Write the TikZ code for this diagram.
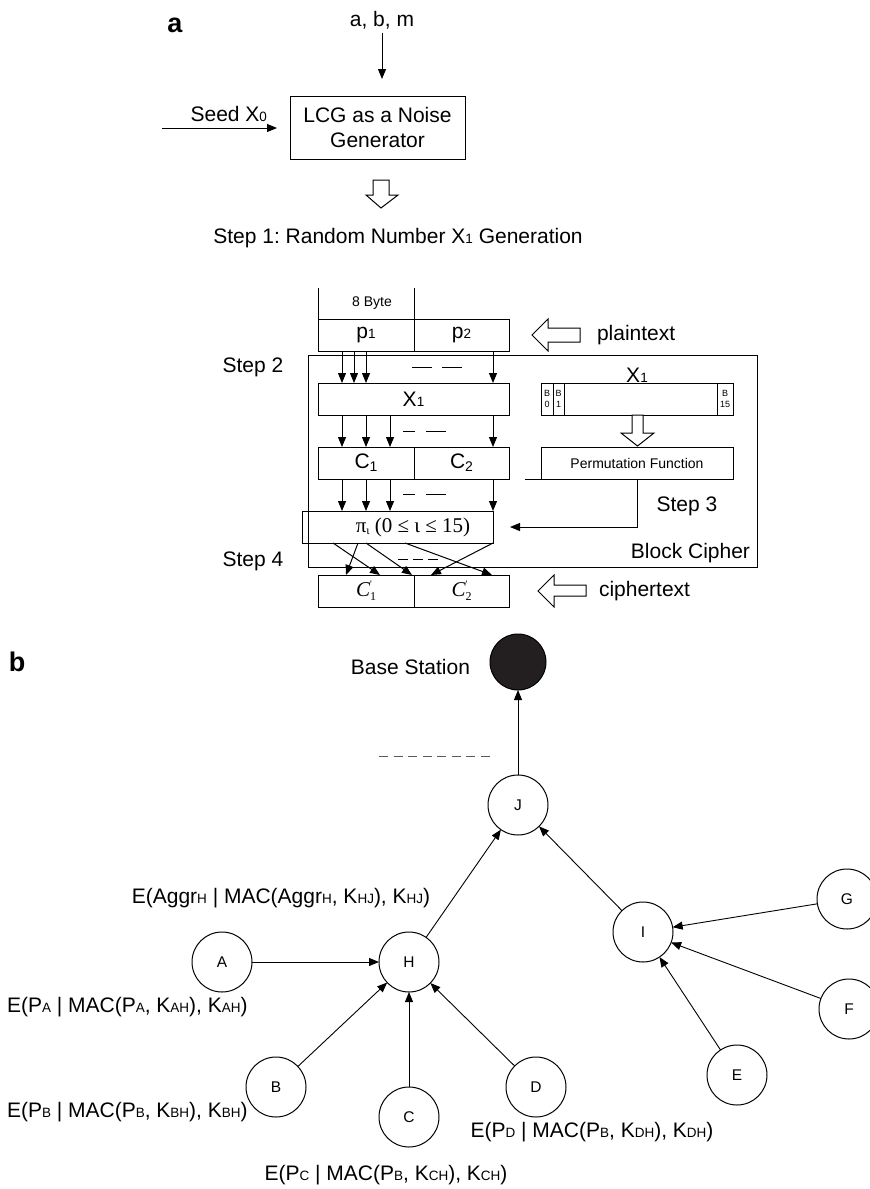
\documentclass[tikz,border=0pt]{standalone}
\usepackage{fontspec}
\setmainfont{Liberation Sans}
\newfontfamily\timesfont{Liberation Serif}
\usetikzlibrary{arrows.meta}
\frenchspacing
% small index letters set on the baseline
\newcommand{\sm}[1]{{\fontsize{13.5}{14}\selectfont #1}}
% lowered index
\newcommand{\lo}[1]{\raisebox{-3pt}{\fontsize{14}{14}\selectfont #1}}
% primed output block C'_i
\newcommand{\cpr}[1]{{\timesfont\itshape C}\makebox[0pt][l]{\raisebox{9pt}{\timesfont\fontsize{10}{10}\selectfont '}}\raisebox{-4pt}{\timesfont\fontsize{12}{12}\selectfont #1}}
\begin{document}
\begin{tikzpicture}[x=1pt,y=-1pt,
  every node/.style={inner sep=0pt,outer sep=0pt},
  lw/.style={line width=1pt},
  box/.style={draw,line width=1pt,rectangle,minimum height=32pt},
  arr/.style={line width=1pt,-{Triangle[length=10pt,width=8pt]}},
  barr/.style={line width=0.9pt,-{Triangle[length=10pt,width=8pt]}},
  txt/.style={font=\fontsize{21}{25}\selectfont},
  stxt/.style={font=\fontsize{14}{16}\selectfont},
  tiny/.style={font=\fontsize{9}{10.5}\selectfont,align=center},
  panel/.style={font=\fontsize{27}{30}\selectfont\bfseries},
  nd/.style={draw,circle,line width=1pt,minimum size=60pt,font=\fontsize{15.5}{15.5}\selectfont},
  hollow/.style={draw,line width=1pt,fill=white,line join=miter},
  gap/.style={line width=1pt}]
\useasboundingbox (0,0) rectangle (870,1189);

% ---------------- panel a ----------------
\node[panel] (pa) at (175,25) {a};
\node[txt] (abm) at (382,20) {a, b, m};
\node[box,minimum width=175pt,minimum height=63pt,txt,align=center] (lcg) at (377.5,127.5) {LCG as a Noise\\Generator};
\draw[arr,shorten <=4pt,shorten >=17pt] (abm.south) -- (abm.south |- lcg.north);
\node[txt,anchor=east] (seed) at (267,114) {Seed X\sm{0}};
\coordinate (seedin) at (162,128);
\draw[arr,shorten >=13pt] (seedin) -- (seedin -| lcg.west);
\draw[hollow] (373,180) -- (389,180) -- (389,195) -- (398,195) -- (381,208) -- (366,195) -- (373,195) -- cycle;
\node[txt] (s1) at (398,238) {Step 1: Random Number X\sm{1} Generation};

% plaintext blocks
\node[box,minimum width=96pt,txt] (p1) at (366,335) {p\sm{1}};
\node[box,minimum width=95pt,txt] (p2) at (461.5,335) {p\sm{2}};
\draw[lw] (p1.north west) -- ++(0,-31);
\draw[lw] (p1.north east) -- ++(0,-31);
\node[stxt] (byte) at (372,303) {8 Byte};
\draw[hollow] (532,335) -- (548,319) -- (548,328) -- (580,328) -- (580,342) -- (548,342) -- (548,351) -- cycle;
\node[txt,anchor=west] (plain) at (597,335) {plaintext};

% block cipher frame
\node[draw,line width=1pt,minimum width=449pt,minimum height=212pt] (bc) at (532.5,461) {};
\node[txt,anchor=east] (bclab) at (750,553) {Block Cipher};
\node[txt] (st2) at (253,367) {Step 2};
\node[txt] (st4) at (253,561) {Step 4};

% round key X1 and the permutation
\node[box,minimum width=191pt,txt] (x1) at (413.5,399) {X\sm{1}};
\foreach \x in {342,354,366,493}
  \draw[arr] (p1.south -| \x,0) -- (x1.north -| \x,0);
\draw[gap] (412,367) -- (432,367) (442,367) -- (462,367);

\node[box,minimum width=96pt,txt] (c1) at (366,463) {C\lo{1}};
\node[box,minimum width=95pt,txt] (c2) at (461.5,463) {C\lo{2}};
\foreach \x in {342,366,390,493}
  \draw[arr] (x1.south -| \x,0) -- (c1.north -| \x,0);
\draw[gap] (403,431) -- (415,431) (426,431) -- (446,431);

\node[box,minimum width=191pt] (pi) at (397.5,527) {};
\node[font=\fontsize{21}{25}\selectfont\timesfont] (pitxt) at (413,527) {π\raisebox{-2pt}{\fontsize{12}{12}\selectfont ι} (0 ≤ ι ≤ 15)};
\foreach \x in {342,366,390,493}
  \draw[arr] (c1.south -| \x,0) -- (pi.north -| \x,0);
\draw[gap] (403,494) -- (415,494) (426,494) -- (446,494);

\node[box,minimum width=96pt] (cp1) at (366,591) {\fontsize{21}{25}\selectfont\cpr{1}};
\node[box,minimum width=95pt] (cp2) at (461.5,591) {\fontsize{21}{25}\selectfont\cpr{2}};
\draw[arr] (pi.south -| 358,0) -- (cp1.north -| 346,0);
\draw[arr] (pi.south -| 333,0) -- (cp1.north -| 380,0);
\draw[arr] (pi.south -| 366,0) -- (cp1.north -| 412,0);
\draw[arr] (pi.south -| 493,0) -- (cp1.north -| 431,0);
\draw[arr] (pi.south -| 405,0) -- (cp1.north -| 492,0);
\draw[gap] (398,559) -- (408,559) (413,559) -- (423,559) (428,559) -- (438,559);
\draw[hollow] (538,591) -- (554,575) -- (554,585) -- (586,585) -- (586,596) -- (554,596) -- (554,607) -- cycle;
\node[txt,anchor=west] (ciph) at (599,591) {ciphertext};

% byte layout of X1 and permutation function
\node[txt] (x1lab) at (637,375) {X\sm{1}};
\node[box,minimum width=192pt] (bx) at (637,399) {};
\foreach \x in {553,564,717}
  \draw[lw] (bx.north -| \x,0) -- (bx.south -| \x,0);
\node[tiny] (b0) at (547,399) {B\\0};
\node[tiny] (b1) at (558.5,399) {B\\1};
\node[tiny] (b15) at (725,399) {B\\15};
\draw[hollow] (632,415) -- (643,415) -- (643,433) -- (654,433) -- (637.5,446) -- (621,433) -- (632,433) -- cycle;
\node[box,minimum width=192pt,stxt] (perm) at (637,463) {Permutation Function};
\draw[lw] (perm.south west) -- ++(-16,0);
\coordinate (bend) at (637,527);
\draw[arr,shorten >=17pt] (perm.south) -- (bend) -- (bend -| pi.east);
\node[txt] (st3) at (687,506) {Step 3};

% ---------------- panel b ----------------
\node[panel] (pb) at (17,662) {b};
\node[nd,fill={rgb,255:red,35;green,31;blue,32},minimum size=56pt] (bs) at (518,662) {};
\node[txt,anchor=east] (bslab) at (470,667) {Base Station};
\coordinate (dl) at (379,756);
\coordinate (dr) at (495,756);
\draw[line width=1pt,draw={rgb,255:red,90;green,90;blue,90},dash pattern=on 9pt off 5.5pt] (dl) -- (dr);

\node[nd] (J) at (518,805) {J};
\node[nd] (H) at (409,962) {H};
\node[nd] (A) at (222,962) {A};
\node[nd] (B) at (276,1087) {B};
\node[nd] (C) at (409,1117) {C};
\node[nd] (D) at (536,1087) {D};
\node[nd] (I) at (643,932) {I};
\node[nd] (G) at (847,899) {G};
\node[nd] (F) at (849,1009) {F};
\node[nd] (E) at (737,1075) {E};

\draw[barr] (J) -- (bs);
\draw[barr] (H) -- (J);
\draw[barr] (I) -- (J);
\draw[barr] (A) -- (H);
\draw[barr] (B) -- (H);
\draw[barr] (C) -- (H);
\draw[barr] (D) -- (H);
\draw[barr] (G) -- (I);
\draw[barr] (F) -- (I);
\draw[barr] (E) -- (I);

\node[txt] (lH) at (281,898) {E(Aggr\sm{H} | MAC(Aggr\sm{H}, K\sm{HJ}), K\sm{HJ})};
\node[txt,anchor=west] (lA) at (7,1007) {E(P\sm{A} | MAC(P\sm{A}, K\sm{AH}), K\sm{AH})};
\node[txt,anchor=west] (lB) at (7,1112) {E(P\sm{B} | MAC(P\sm{B}, K\sm{BH}), K\sm{BH})};
\node[txt] (lC) at (386,1175) {E(P\sm{C} | MAC(P\sm{B}, K\sm{CH}), K\sm{CH})};
\node[txt] (lD) at (592,1132) {E(P\sm{D} | MAC(P\sm{B}, K\sm{DH}), K\sm{DH})};
\end{tikzpicture}
\end{document}
